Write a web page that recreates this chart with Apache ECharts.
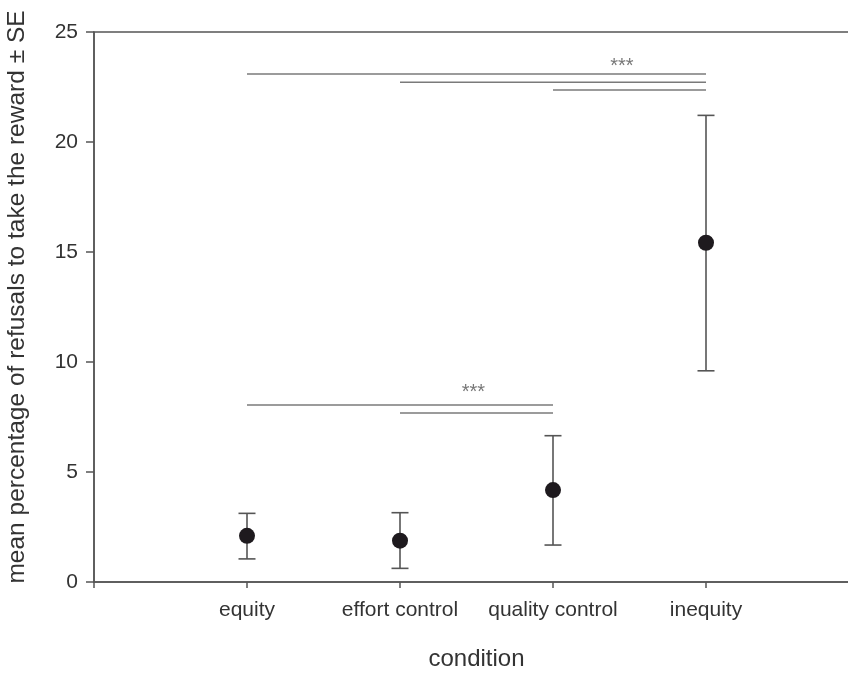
<!DOCTYPE html>
<html>
<head>
<meta charset="utf-8">
<script src="https://cdn.jsdelivr.net/npm/echarts@6/dist/echarts.min.js"></script>
<style>html,body{margin:0;padding:0;background:#fff}#c{width:848px;height:674px}</style>
</head>
<body>
<div id="c"></div>
<script>
var categories = ['equity', 'effort control', 'quality control', 'inequity'];
var means = [2.10, 1.88, 4.18, 15.42];
var upper = [3.12, 3.15, 6.65, 21.21];
var lower = [1.05, 0.62, 1.68, 9.60];
var yTicks = [0, 5, 10, 15, 20, 25];
// significance bars: [from category index, to category index, y value]
var sigBars = [[0, 3, 23.09], [1, 3, 22.72], [2, 3, 22.36], [0, 2, 8.05], [1, 2, 7.68]];
// significance labels: [x position, y value, text]
var sigLabels = [[3.45, 23.45, '***'], [2.48, 8.62, '***']];

var chart = echarts.init(document.getElementById('c'), null, {renderer: 'canvas'});
var font = 'Liberation Sans, Arial, Helvetica, sans-serif';

var errData = categories.map(function (c, i) { return [i + 1, lower[i], upper[i]]; });
var meanData = categories.map(function (c, i) { return [i + 1, means[i]]; });

chart.setOption({
  animation: false,
  backgroundColor: '#fff',
  grid: {left: 94, top: 32, bottom: 92, right: -11, outerBoundsMode: 'none', containLabel: false,
    show: true, borderColor: '#555', borderWidth: 1.5, backgroundColor: 'transparent'},
  xAxis: {
    type: 'value', min: 0, max: 5, interval: 1,
    name: 'condition', nameLocation: 'middle', nameGap: 65,
    nameTextStyle: {fontFamily: font, fontSize: 24, color: '#333'},
    axisLine: {show: true, lineStyle: {color: '#555', width: 1.5}},
    axisTick: {show: true, length: 6, lineStyle: {color: '#555', width: 1.5}},
    axisLabel: {
      fontFamily: font, fontSize: 21, color: '#333', margin: 18,
      formatter: function (v) { return categories[v - 1] || ''; }
    },
    splitLine: {show: false}
  },
  yAxis: {
    type: 'value', min: 0, max: 25, interval: 5,
    name: 'mean percentage of refusals to take the reward \u00b1 SE',
    nameLocation: 'middle', nameGap: 64,
    nameTextStyle: {fontFamily: font, fontSize: 24.5, color: '#333', padding: [0, 0, 0, 20]},
    axisLine: {show: true, lineStyle: {color: '#555', width: 1.5}},
    axisTick: {show: true, length: 8, lineStyle: {color: '#555', width: 1.5}},
    axisLabel: {
      fontFamily: font, fontSize: 21, color: '#333', margin: 16,
      formatter: function (v) { return yTicks.indexOf(v) >= 0 ? String(v) : ''; }
    },
    splitLine: {show: false}
  },
  series: [
    {
      type: 'custom',
      data: sigBars.map(function (b) { return [b[0] + 1, b[1] + 1, b[2]]; }),
      encode: {x: [0, 1], y: 2},
      renderItem: function (params, api) {
        var p1 = api.coord([api.value(0), api.value(2)]);
        var p2 = api.coord([api.value(1), api.value(2)]);
        return {type: 'line', shape: {x1: p1[0], y1: p1[1], x2: p2[0], y2: p2[1]},
          style: {stroke: '#7a7a7a', lineWidth: 1.5}};
      },
      z: 2
    },
    {
      type: 'scatter',
      data: sigLabels.map(function (s) { return [s[0], s[1], s[2]]; }),
      symbolSize: 0,
      label: {show: true, position: 'inside', formatter: function (p) { return p.data[2]; },
        fontFamily: font, fontSize: 20, color: '#555'},
      z: 3
    },
    {
      type: 'custom',
      data: errData,
      encode: {x: 0, y: [1, 2]},
      renderItem: function (params, api) {
        var x = api.value(0);
        var lo = api.coord([x, api.value(1)]);
        var hi = api.coord([x, api.value(2)]);
        var w = 8.5;
        var st = {stroke: '#555', lineWidth: 1.6};
        return {type: 'group', children: [
          {type: 'line', shape: {x1: lo[0], y1: lo[1], x2: hi[0], y2: hi[1]}, style: st},
          {type: 'line', shape: {x1: hi[0] - w, y1: hi[1], x2: hi[0] + w, y2: hi[1]}, style: st},
          {type: 'line', shape: {x1: lo[0] - w, y1: lo[1], x2: lo[0] + w, y2: lo[1]}, style: st}
        ]};
      },
      z: 4
    },
    {
      type: 'scatter',
      data: meanData,
      symbol: 'circle',
      symbolSize: 16,
      itemStyle: {color: '#1e1a1e', opacity: 1},
      z: 5
    }
  ]
});
</script>
</body>
</html>
